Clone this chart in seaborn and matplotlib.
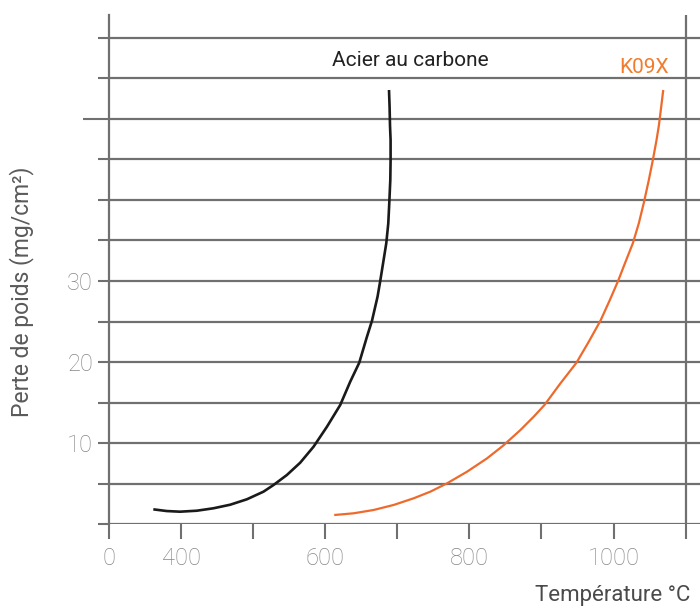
import matplotlib
matplotlib.use("Agg")
import matplotlib.pyplot as plt
import seaborn as sns
import pandas as pd

# --- data ---
carbon_temp = [361.5, 380.1, 398.6, 421.8, 444.9, 468.1, 491.3, 514.3, 528.2, 546.8,
               565.3, 583.8, 602.4, 620.8, 634.7, 647.2, 657.9, 664.9, 672.6, 676.4,
               681.0, 684.7, 687.5, 688.9, 690.3, 690.7, 690.7, 689.9, 689.3, 688.5]
carbon_loss = [1.81, 1.60, 1.52, 1.64, 1.94, 2.38, 3.05, 3.99, 4.81, 6.05,
               7.57, 9.54, 12.01, 14.69, 17.57, 19.91, 23.12, 25.10, 28.06, 30.04,
               32.59, 34.65, 37.12, 39.67, 42.47, 44.94, 47.41, 49.17, 51.52, 53.58]
k09x_temp = [612.5, 639.3, 667.1, 694.9, 722.6, 745.8, 769.0, 796.8, 824.6, 846.8,
             870.8, 889.3, 904.2, 926.4, 948.6, 965.7, 981.9, 994.9, 1006.5, 1016.7,
             1026.8, 1035.1, 1042.1, 1049.0, 1054.6, 1059.7, 1062.9, 1066.2, 1069.0]
k09x_loss = [1.11, 1.32, 1.73, 2.35, 3.17, 3.99, 5.02, 6.46, 8.11, 9.67,
             11.60, 13.25, 14.69, 17.37, 19.91, 22.51, 25.10, 27.65, 30.04, 32.38,
             34.65, 37.12, 39.67, 42.47, 44.94, 47.41, 49.17, 51.52, 53.58]

x_ticks = [300, 400, 500, 600, 700, 800, 900, 1000, 1100]
x_ticklabels = ["0", "400", "", "600", "", "800", "", "1000", ""]
y_ticks = [0, 5, 10, 15, 20, 25, 30, 35, 40, 45, 55, 60]
y_ticklabels = ["", "", "10", "", "20", "", "30", "", "", "", "", ""]
y_long_tick = [50]

series_names = ["Acier au carbone", "K09X"]

df = pd.concat([
    pd.DataFrame({"temp": carbon_temp, "loss": carbon_loss, "serie": series_names[0]}),
    pd.DataFrame({"temp": k09x_temp, "loss": k09x_loss, "serie": series_names[1]}),
], ignore_index=True)

sns.set_theme(style="white")
plt.rcParams["font.family"] = ["Roboto", "DejaVu Sans"]

GRID = "#707070"
TICKTXT = "#878787"
ORANGE_LINE = "#ee6a2c"
ORANGE_TXT = "#f07d2e"

fig = plt.figure(figsize=(7, 6.08), dpi=100)
W, H = 700, 608
left_px, right_px, bottom_px, top_px = 109, 700, 524, 15
ax = fig.add_axes([left_px / W, 1 - bottom_px / H, (right_px - left_px) / W, (bottom_px - top_px) / H])

palette = {series_names[0]: "#1a1a1a", series_names[1]: ORANGE_LINE}
for name, lw in [(series_names[0], 1.9), (series_names[1], 1.6)]:
    sub = df[df["serie"] == name]
    sns.lineplot(data=sub, x="temp", y="loss", sort=False, estimator=None,
                 color=palette[name], linewidth=lw, ax=ax, legend=False,
                 solid_joinstyle="round", solid_capstyle="butt")

ax.set_xlim(300, 1120)
ax.set_ylim(0, (bottom_px - top_px) / 8.1)

for s in ["top", "right", "bottom"]:
    ax.spines[s].set_visible(False)
ax.spines["left"].set_color(GRID)
ax.spines["left"].set_linewidth(1.6)

ax.set_xticks(x_ticks)
ax.set_xticklabels(x_ticklabels)
ax.set_yticks(y_ticks)
ax.set_yticklabels(y_ticklabels)
ax.set_yticks(y_long_tick, minor=True)

ax.tick_params(axis="x", which="major", direction="out", length=10.8, width=1.5, color=GRID,
               labelsize=17, labelcolor=TICKTXT, pad=6, bottom=True)
ax.tick_params(axis="y", which="major", direction="out", length=8, width=1.5, color=GRID,
               labelsize=17, labelcolor=TICKTXT, pad=3.5, left=True)
ax.tick_params(axis="y", which="minor", direction="out", length=19, width=1.5, color=GRID, left=True)
for lab in ax.get_xticklabels() + ax.get_yticklabels():
    lab.set_fontweight("light")

ax.yaxis.grid(True, which="both", color=GRID, linewidth=1.6)
ax.xaxis.grid(False)
ax.set_axisbelow(True)

# right vertical line at 1100
ax.axvline(1100, color=GRID, linewidth=1.6, zorder=0.5)

ax.set_xlabel("")
ax.set_ylabel("")

ax.text(718, 57.2, series_names[0], ha="center", va="center", fontsize=15, color="#222222")
ax.text(1043, 56.3, series_names[1], ha="center", va="center", fontsize=15, color=ORANGE_TXT)

fig.text(22 / W, 1 - 292 / H, "Perte de poids (mg/cm²)", rotation=90, ha="center", va="center",
         fontsize=16.5, color="#5a5a5a", fontweight="normal")
fig.text(690 / W, 1 - 596 / H, "Température °C", ha="right", va="center",
         fontsize=16, color="#4a4a4a", fontweight="normal")

fig.savefig("out.png", dpi=100)
